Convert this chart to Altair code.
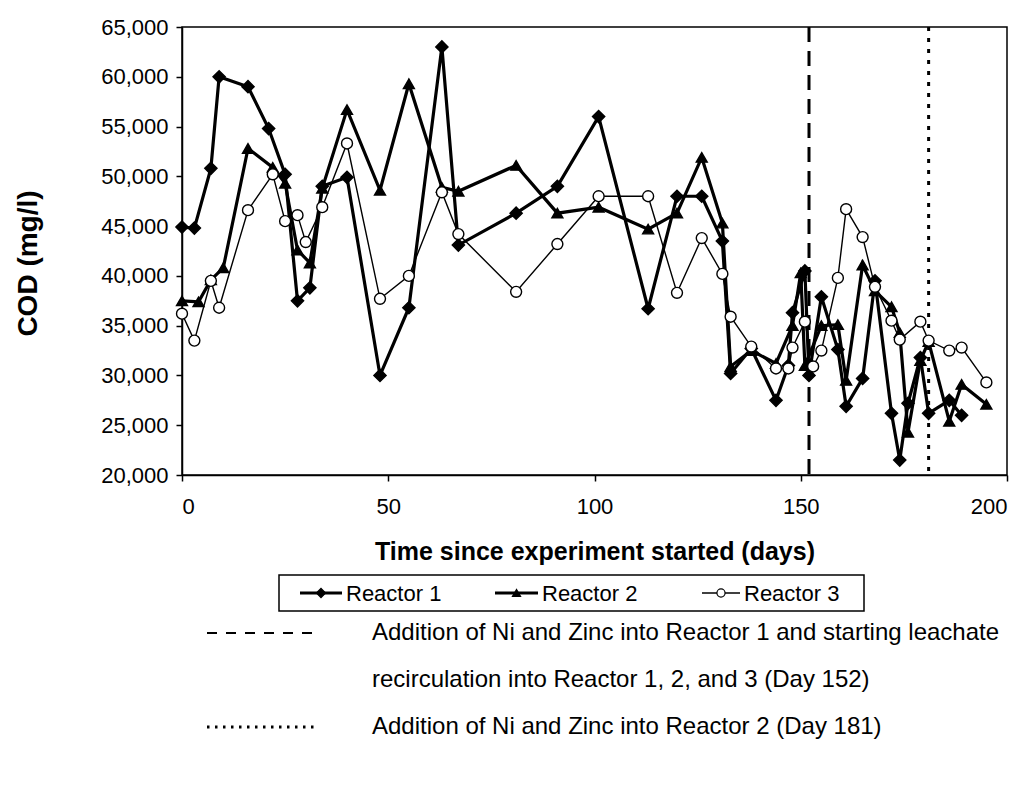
import altair as alt
import pandas as pd

# COD measurements (mg/l) for each reactor, by day since start
r1_day = [0, 3, 7, 9, 16, 21, 25, 28, 31, 34, 40, 48, 55, 63, 67, 81, 91, 101, 113, 120,
          126, 131, 133, 138, 144, 147, 148, 151, 152, 155, 159, 161, 165, 168, 172, 174,
          176, 179, 181, 186, 189]
r1_cod = [44900, 44800, 50800, 60000, 59000, 54800, 50200, 37500, 38800, 49000, 49900,
          30000, 36800, 63000, 43100, 46300, 49000, 56000, 36700, 48000, 48000, 43500,
          30200, 32700, 27500, 31000, 36300, 40500, 30000, 37900, 32600, 26900, 29700,
          39500, 26200, 21500, 27200, 31800, 26200, 27500, 26000]

r2_day = [0, 4, 7, 10, 16, 22, 25, 28, 31, 34, 40, 48, 55, 63, 67, 81, 91, 101, 113, 120,
          126, 131, 133, 138, 144, 148, 150, 151, 155, 159, 161, 165, 168, 172, 174, 176,
          179, 181, 186, 189, 195]
r2_cod = [37500, 37400, 39600, 40800, 52800, 50900, 49300, 42600, 41300, 48800, 56700,
          48600, 59300, 48900, 48500, 51100, 46300, 46900, 44700, 46300, 51900, 45300,
          30900, 32500, 31200, 35000, 40300, 31000, 35000, 35100, 29500, 41100, 38500,
          36900, 34300, 24300, 31500, 33400, 25400, 29100, 27100]

r3_day = [0, 3, 7, 9, 16, 22, 25, 28, 30, 34, 40, 48, 55, 63, 67, 81, 91, 101, 113, 120,
          126, 131, 133, 138, 144, 147, 148, 151, 153, 155, 159, 161, 165, 168, 172, 174,
          179, 181, 186, 189, 195]
r3_cod = [36200, 33500, 39500, 36800, 46600, 50200, 45500, 46100, 43400, 46900, 53300,
          37700, 40000, 48400, 44200, 38400, 43200, 48000, 48000, 38300, 43800, 40200,
          35900, 32900, 30700, 30700, 32800, 35400, 30900, 32500, 39800, 46700, 43900,
          38900, 35500, 33600, 35400, 33500, 32500, 32800, 29300]

series_names = ["Reactor 1", "Reactor 2", "Reactor 3"]

# Days on which the treatment changed, with their notes
event_days = [152, 181]
event_notes = [
    ["Addition of Ni and Zinc into Reactor 1 and starting leachate",
     "recirculation into Reactor 1, 2, and 3 (Day 152)"],
    ["Addition of Ni and Zinc into Reactor 2 (Day 181)"],
]

x_ticks = [0, 50, 100, 150, 200]
y_ticks = list(range(20000, 65001, 5000))

rows = []
for name, days, vals in zip(series_names, [r1_day, r2_day, r3_day], [r1_cod, r2_cod, r3_cod]):
    for d, v in zip(days, vals):
        rows.append({"series": name, "day": d, "cod": v})
df = pd.DataFrame(rows)
events = pd.DataFrame({"day": event_days, "kind": ["dash", "dot"]})

W, H = 825, 448
FONT = "Liberation Sans"

x_scale = alt.Scale(domain=[0, 200], nice=False, zero=False)
y_scale = alt.Scale(domain=[20000, 65000], nice=False, zero=False)

x_axis = alt.Axis(
    title="Time since experiment started (days)", values=x_ticks, format="d",
    labelFontSize=22, labelPadding=15, tickSize=6,
    titleFontSize=25, titleFontWeight="bold", titleX=W / 2, titleY=64,
    titleBaseline="top", titleAlign="center",
)
y_axis = alt.Axis(
    title="COD (mg/l)", values=y_ticks, format=",d",
    labelFontSize=22, labelPadding=8, tickSize=6,
    titleFontSize=28, titleFontWeight="bold", titleAngle=270,
    titleX=-154, titleY=236, titleBaseline="middle", titleAlign="center",
)

X = alt.X("day:Q", scale=x_scale, axis=x_axis)
Y = alt.Y("cod:Q", scale=y_scale, axis=y_axis)

styles = {
    "Reactor 1": dict(width=3.2, shape="diamond", size=150, fill="black"),
    "Reactor 2": dict(width=3.2, shape="triangle-up", size=120, fill="black"),
    "Reactor 3": dict(width=1.4, shape="circle", size=120, fill="white"),
}

base = alt.Chart(df)
layers = []

# event markers
for kind, dash in [("dash", [15, 9]), ("dot", [4, 7])]:
    layers.append(
        alt.Chart(events).transform_filter(alt.datum.kind == kind)
        .mark_rule(color="black", strokeWidth=3, strokeDash=dash)
        .encode(x=X)
    )

for name in series_names:
    st = styles[name]
    layers.append(
        base.transform_filter(alt.datum.series == name)
        .mark_line(color="black", strokeWidth=st["width"])
        .encode(x=X, y=Y)
    )
for name in series_names:
    st = styles[name]
    layers.append(
        base.transform_filter(alt.datum.series == name)
        .mark_point(shape=st["shape"], size=st["size"], filled=True, fill=st["fill"],
                    stroke="black", strokeWidth=1.4, opacity=1)
        .encode(x=X, y=Y)
    )

# legend box below the plot
one = alt.Data(values=[{}])
LX0, LX1, LY0, LY1 = 97, 682, 548, 584
LYC = (LY0 + LY1) / 2
layers.append(
    alt.Chart(one).mark_rect(fill="white", stroke="black", strokeWidth=1.5)
    .encode(x=alt.value(LX0), x2=alt.value(LX1), y=alt.value(LY0), y2=alt.value(LY1))
)
legend_x = [118, 313, 520]
legend_len = [42, 43, 38]
for name, lx, ll in zip(series_names, legend_x, legend_len):
    st = styles[name]
    layers.append(
        alt.Chart(one).mark_rule(color="black", strokeWidth=st["width"])
        .encode(x=alt.value(lx), x2=alt.value(lx + ll), y=alt.value(LYC))
    )
    layers.append(
        alt.Chart(one).mark_point(shape=st["shape"], size=st["size"] * 0.55, filled=True,
                                  fill=st["fill"], stroke="black", strokeWidth=1.2, opacity=1)
        .encode(x=alt.value(lx + ll / 2), y=alt.value(LYC))
    )
    layers.append(
        alt.Chart(one).mark_text(align="left", baseline="middle", font=FONT,
                                 fontSize=22, color="black")
        .encode(x=alt.value(lx + ll + 4), y=alt.value(LYC + 1), text=alt.value(name))
    )

# notes explaining the vertical markers
note_rows = [606, 653, 700]
layers.append(
    alt.Chart(one).mark_rule(color="black", strokeWidth=2, strokeDash=[10, 9])
    .encode(x=alt.value(25), x2=alt.value(136), y=alt.value(note_rows[0]))
)
layers.append(
    alt.Chart(one).mark_rule(color="black", strokeWidth=3, strokeDash=[2.5, 5.5])
    .encode(x=alt.value(25), x2=alt.value(136), y=alt.value(note_rows[2]))
)
note_lines = event_notes[0] + event_notes[1]
for txt, ny in zip(note_lines, note_rows):
    layers.append(
        alt.Chart(one).mark_text(align="left", baseline="middle", font=FONT,
                                 fontSize=24, color="black")
        .encode(x=alt.value(190), y=alt.value(ny), text=alt.value(txt))
    )

chart = (
    alt.layer(*layers)
    .properties(
        width=W, height=H,
        autosize=alt.AutoSizeParams(type="none"),
        padding={"left": 182, "top": 27, "right": 21, "bottom": 334},
        background="white",
    )
    .configure_view(stroke="black", strokeWidth=1.5)
    .configure_axis(
        grid=False, domainColor="black", domainWidth=1.5, tickColor="black",
        tickWidth=1.5, labelColor="black", titleColor="black",
        labelFont=FONT, titleFont=FONT,
    )
)

chart.save("out.html", embed_options={"renderer": "svg", "actions": False})
